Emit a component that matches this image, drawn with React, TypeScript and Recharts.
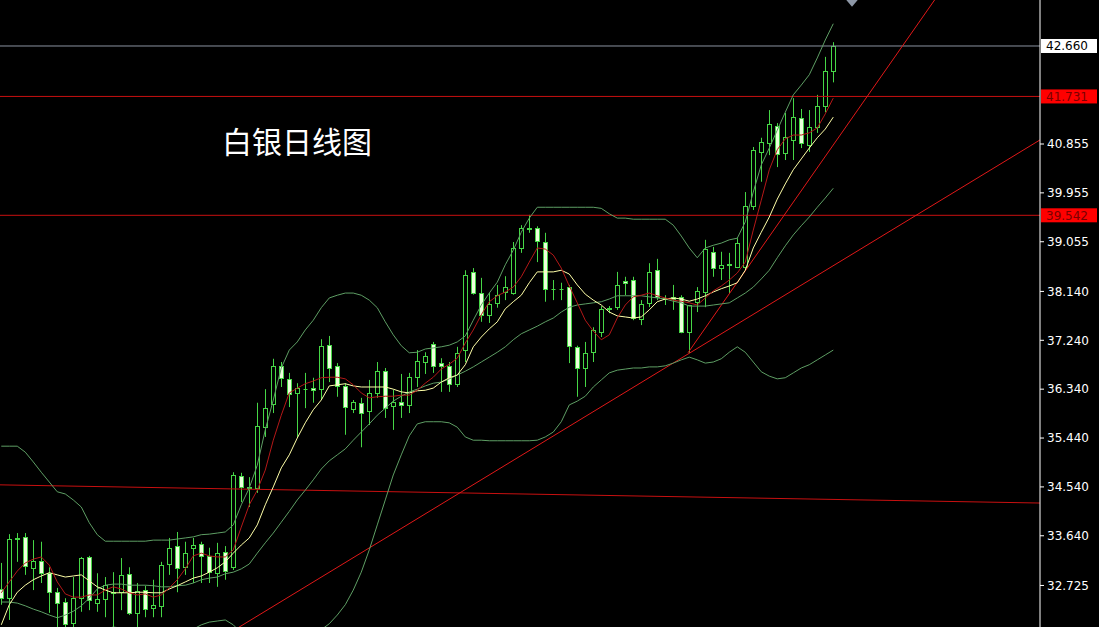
import React from "react";
import {
  ComposedChart,
  Bar,
  Line,
  XAxis,
  YAxis,
  ReferenceLine,
  ReferenceDot,
} from "recharts";

// daily candles, oldest first
const opens = [
  32.66, 32.49, 33.58, 33.62, 33.05, 33.18, 32.95, 32.6, 32.42, 32.03,
  32.49, 33.25, 32.4, 32.48, 32.59, 32.6, 32.94, 32.22, 32.64, 32.31,
  32.35, 33.12, 33.45, 33.06, 33.42, 33.49, 33.27, 32.95, 33.34, 33.06,
  34.74, 34.52, 34.52, 35.64, 36.07, 36.77, 36.53, 36.27, 36.34, 36.36,
  36.34, 37.15, 36.77, 36.4, 35.97, 36.09, 35.94, 36.27, 36.67, 36.03,
  36.11, 36.05, 36.56, 36.84, 37.17, 36.82, 36.77, 36.44, 37.06, 38.5,
  38.11, 37.71, 37.93, 38.13, 38.11, 38.94, 39.29, 39.31, 39.05, 38.19,
  38.18, 38.22, 37.12, 36.73, 37.02, 37.39, 37.82, 37.85, 38.33, 38.35,
  37.63, 37.93, 38.53, 38.02, 38.04, 38.04, 37.39, 37.95, 38.13, 38.87,
  38.57, 38.63, 38.59, 38.59, 39.71, 40.71, 40.87, 41.19, 40.69, 40.93,
  41.33, 40.84, 41.17, 41.55, 42.2,
];
const highs = [
  33.14, 33.67, 33.69, 33.69, 33.56, 33.53, 33.06, 32.68, 32.49, 32.88,
  33.25, 33.27, 32.95, 32.88, 32.97, 33.23, 33.06, 32.77, 32.72, 32.83,
  33.16, 33.6, 33.71, 33.53, 33.6, 33.53, 33.42, 33.51, 33.45, 34.81,
  34.8, 34.72, 36.09, 36.34, 36.9, 36.84, 36.64, 36.45, 36.64, 36.55,
  37.26, 37.32, 36.82, 36.45, 36.14, 36.18, 36.51, 36.84, 36.73, 36.33,
  36.62, 36.64, 37.06, 37.02, 37.21, 36.91, 36.84, 37.12, 38.53, 38.57,
  38.39, 38.11, 38.26, 38.42, 39.05, 39.36, 39.55, 39.34, 39.22, 38.35,
  38.3, 38.26, 37.14, 37.21, 37.48, 37.87, 37.87, 38.5, 38.41, 38.41,
  37.98, 38.66, 38.74, 38.07, 38.26, 38.07, 37.89, 38.22, 39.09, 38.96,
  38.87, 38.85, 39.12, 39.97, 40.8, 40.97, 41.48, 41.24, 41.43, 41.7,
  41.5, 41.48, 41.76, 42.46, 42.73,
];
const lows = [
  32.37, 32.09, 33.16, 32.92, 32.64, 32.77, 32.22, 31.9, 31.9, 31.9,
  32.24, 32.27, 32.24, 32.14, 31.9, 32.27, 32.18, 31.9, 32.14, 32.14,
  32.14, 32.92, 32.6, 32.92, 32.77, 32.77, 32.77, 32.7, 32.83, 33.01,
  34.26, 34.17, 34.43, 35.46, 35.9, 36.38, 36.01, 35.46, 35.99, 36.09,
  36.14, 36.47, 36.2, 35.5, 35.9, 35.27, 35.68, 36.18, 35.81, 35.59,
  35.81, 35.9, 36.38, 36.62, 36.64, 36.29, 36.29, 36.38, 36.84, 38.08,
  37.58, 37.56, 37.84, 37.98, 38.08, 38.85, 39.22, 38.68, 37.95, 37.98,
  37.98, 36.82, 36.2, 36.38, 36.84, 37.3, 37.74, 37.8, 38.07, 37.61,
  37.52, 37.85, 37.98, 37.89, 37.8, 37.37, 37.01, 37.76, 37.85, 38.41,
  38.35, 38.11, 38.57, 38.53, 39.64, 40.16, 40.65, 40.43, 40.56, 40.56,
  40.78, 40.71, 41.06, 41.44, 41.99,
];
const closes = [
  32.49, 33.58, 33.6, 33.08, 33.18, 32.95, 32.6, 32.4, 32.02, 32.49,
  33.23, 32.46, 32.48, 32.73, 32.6, 32.92, 32.22, 32.62, 32.29, 32.37,
  33.1, 33.42, 33.05, 33.32, 33.47, 33.27, 32.97, 33.32, 32.99, 34.76,
  34.54, 34.54, 35.66, 35.99, 36.77, 36.55, 36.25, 36.36, 36.35, 36.32,
  37.14, 36.73, 36.4, 36.01, 36.11, 35.9, 36.27, 36.67, 35.99, 36.11,
  36.05, 36.56, 36.86, 36.95, 36.77, 36.77, 36.44, 37.01, 38.44, 38.11,
  37.71, 37.91, 38.07, 38.22, 38.94, 39.31, 39.3, 39.07, 38.19, 38.18,
  38.19, 37.14, 36.73, 37.01, 37.43, 37.82, 37.83, 38.26, 38.3, 37.65,
  37.91, 38.5, 38.04, 38.0, 38.0, 37.39, 37.89, 38.15, 38.92, 38.57,
  38.63, 38.64, 39.03, 39.71, 40.74, 40.89, 41.22, 40.67, 40.98, 41.35,
  40.87, 41.17, 41.55, 42.2, 42.66,
];

// fast average (red)
const maFast = [
  32.59, 32.79, 32.99, 33.14, 33.21, 33.25, 33.1, 32.79, 32.57, 32.51,
  32.51, 32.55, 32.55, 32.64, 32.7, 32.66, 32.59, 32.55, 32.57, 32.51,
  32.55, 32.68, 32.83, 33.03, 33.27, 33.32, 33.27, 33.25, 33.25, 33.38,
  33.8, 34.21, 34.48, 34.85, 35.4, 35.86, 36.27, 36.36, 36.44, 36.49,
  36.55, 36.56, 36.56, 36.53, 36.42, 36.27, 36.18, 36.2, 36.21, 36.21,
  36.23, 36.23, 36.32, 36.45, 36.56, 36.71, 36.8, 36.91, 37.19, 37.43,
  37.71, 37.95, 38.06, 38.13, 38.22, 38.41, 38.68, 38.94, 38.92, 38.81,
  38.57, 38.24, 37.93, 37.61, 37.41, 37.25, 37.34, 37.65, 37.89, 38.04,
  38.07, 38.11, 38.06, 38.02, 37.98, 37.96, 37.93, 37.89, 38.02, 38.15,
  38.24, 38.35, 38.48, 38.68, 39.27, 39.82, 40.38, 40.75, 40.95, 41.02,
  41.02, 41.06, 41.15, 41.41, 41.7,
];
// slow average (yellow)
const maSlow = [
  32.0, 32.37, 32.6, 32.73, 32.83, 32.9, 32.96, 32.92, 32.88, 32.9,
  32.92, 32.81, 32.7, 32.64, 32.59, 32.59, 32.59, 32.6, 32.6, 32.59,
  32.59, 32.66, 32.72, 32.79, 32.86, 32.9, 32.97, 33.05, 33.16, 33.32,
  33.47, 33.6, 33.84, 34.21, 34.54, 34.89, 35.13, 35.44, 35.72, 35.96,
  36.14, 36.4, 36.42, 36.44, 36.4, 36.38, 36.38, 36.38, 36.38, 36.34,
  36.29, 36.27, 36.31, 36.32, 36.36, 36.47, 36.55, 36.6, 36.79, 37.12,
  37.3, 37.45, 37.58, 37.82, 37.95, 38.07, 38.3, 38.5, 38.5, 38.5,
  38.53, 38.46, 38.26, 38.09, 37.98, 37.89, 37.76, 37.69, 37.67, 37.65,
  37.67, 37.8, 37.95, 38.0, 38.02, 38.0, 37.96, 38.0, 38.06, 38.13,
  38.19, 38.24, 38.3, 38.53, 38.94, 39.23, 39.51, 39.84, 40.12, 40.38,
  40.58, 40.78, 40.97, 41.13, 41.35,
];
// bollinger bands (green)
const bandUpper = [
  35.29, 35.29, 35.29, 35.18, 35.0, 34.81, 34.63, 34.45, 34.41, 34.3,
  34.17, 33.88, 33.66, 33.54, 33.54, 33.54, 33.54, 33.54, 33.54, 33.56,
  33.56, 33.56, 33.58, 33.6, 33.62, 33.66, 33.67, 33.69, 33.71, 33.84,
  34.21, 34.52, 34.94, 35.59, 36.14, 36.73, 37.06, 37.21, 37.43, 37.61,
  37.84, 38.02, 38.07, 38.11, 38.11, 38.07, 37.98, 37.84, 37.58, 37.34,
  37.14, 37.01, 37.02, 37.08, 37.1, 37.12, 37.15, 37.21, 37.32, 37.61,
  37.89, 38.11, 38.31, 38.63, 38.9, 39.23, 39.49, 39.69, 39.69, 39.69,
  39.69, 39.69, 39.69, 39.69, 39.69, 39.67, 39.57, 39.49, 39.49, 39.47,
  39.47, 39.47, 39.47, 39.47, 39.36, 39.16, 38.94, 38.76, 38.94, 38.99,
  39.03, 39.09, 39.12, 39.42, 39.97, 40.47, 40.78, 41.11, 41.44, 41.76,
  41.94, 42.13, 42.44, 42.77, 43.07,
];
const bandMid = [
  32.42, 32.42, 32.4, 32.35, 32.29, 32.24, 32.18, 32.13, 32.18, 32.25,
  32.35, 32.49, 32.66, 32.73, 32.75, 32.75, 32.73, 32.73, 32.73, 32.72,
  32.7, 32.7, 32.72, 32.73, 32.77, 32.83, 32.86, 32.88, 32.94, 32.97,
  33.03, 33.12, 33.32, 33.51, 33.69, 33.89, 34.09, 34.3, 34.48, 34.67,
  34.87, 35.02, 35.13, 35.24, 35.4, 35.55, 35.7, 35.86, 35.99, 36.12,
  36.21, 36.29, 36.34, 36.4, 36.45, 36.47, 36.53, 36.6, 36.67, 36.75,
  36.84, 36.93, 37.02, 37.12, 37.25, 37.36, 37.43, 37.5, 37.58, 37.65,
  37.76, 37.85, 37.89, 37.91, 37.93, 37.95, 38.0, 38.06, 38.06, 38.06,
  38.06, 38.04, 38.02, 38.0, 37.96, 37.93, 37.87, 37.87, 37.87, 37.89,
  37.91, 37.93, 38.02, 38.11, 38.22, 38.37, 38.53, 38.76, 38.98, 39.18,
  39.35, 39.51, 39.69, 39.86, 40.04,
];
const bandLower = [
  29.55, 29.55, 29.51, 29.51, 29.58, 29.66, 29.73, 29.81, 29.95, 30.21,
  30.52, 31.11, 31.66, 31.92, 31.96, 31.94, 31.92, 31.92, 31.92, 31.87,
  31.83, 31.83, 31.85, 31.87, 31.92, 32.0, 32.05, 32.07, 32.09, 32.0,
  31.85, 31.72, 31.7, 31.43, 31.24, 31.06, 31.13, 31.39, 31.54, 31.72,
  31.91, 32.02, 32.18, 32.37, 32.64, 32.97, 33.38, 33.84, 34.3, 34.76,
  35.13, 35.48, 35.7, 35.74, 35.74, 35.74, 35.72, 35.64, 35.46, 35.4,
  35.4, 35.39, 35.39, 35.39, 35.39, 35.39, 35.39, 35.4, 35.46, 35.55,
  35.74, 36.05, 36.12, 36.21, 36.38, 36.51, 36.64, 36.69, 36.71, 36.73,
  36.73, 36.75, 36.75, 36.77, 36.82, 36.88, 36.93, 36.88, 36.82, 36.84,
  36.9, 37.02, 37.12, 37.02, 36.84, 36.66, 36.58, 36.53, 36.55, 36.64,
  36.73, 36.79, 36.88, 36.97, 37.06,
];

const priceTicks = [
  40.855, 39.955, 39.055, 38.14, 37.24, 36.34, 35.44, 34.54, 33.64, 32.725,
];

const lastPrice = 42.66;
const resistance = 41.731;
const support = 39.542;

const GREEN = "#46d646";

const chartData = opens.map((open, i) => ({
  i,
  open,
  high: highs[i],
  low: lows[i],
  close: closes[i],
  maFast: maFast[i],
  maSlow: maSlow[i],
  upper: bandUpper[i],
  mid: bandMid[i],
  lower: bandLower[i],
}));

function Candle(props: any) {
  const { x, y, width, height, payload } = props;
  if (!payload) return null;
  const top = Math.min(y, y + height);
  const bottom = Math.max(y, y + height);
  const range = payload.high - payload.low;
  const k = range > 0 ? (bottom - top) / range : 0;
  const py = (v: number) => top + (payload.high - v) * k;
  const cx = Math.round(x + width / 2) + 0.5;
  const up = payload.close >= payload.open;
  const yo = py(payload.open);
  const yc = py(payload.close);
  const bTop = Math.round(Math.min(yo, yc)) + 0.5;
  const bBot = Math.round(Math.max(yo, yc)) + 0.5;
  return (
    <g>
      <line x1={cx} x2={cx} y1={top} y2={bottom} stroke={GREEN} strokeWidth={1} />
      {bBot - bTop < 1 ? (
        <line x1={cx - 2} x2={cx + 2} y1={bTop} y2={bTop} stroke={GREEN} strokeWidth={1} />
      ) : (
        <rect
          x={cx - 2}
          y={bTop}
          width={4}
          height={bBot - bTop}
          fill={up ? "#000000" : "#ecffdc"}
          stroke={GREEN}
          strokeWidth={1}
        />
      )}
    </g>
  );
}

function PriceTag(props: any) {
  const { viewBox, text, bg, color } = props;
  if (!viewBox) return null;
  const x = viewBox.x + viewBox.width + 1;
  const y = viewBox.y;
  return (
    <g>
      <rect x={x} y={y - 7} width={56} height={14} fill={bg} />
      <text
        x={x + 5}
        y={y + 4.5}
        fill={color}
        fontSize={12}
        fontFamily="DejaVu Sans"
      >
        {text}
      </text>
    </g>
  );
}

function Marker(props: any) {
  const { cx, cy } = props;
  return (
    <polygon
      points={`${cx - 6},${cy - 4} ${cx + 6},${cy - 4} ${cx},${cy + 3}`}
      fill="#8d97a6"
    />
  );
}

function App() {
  return (
    <div
      style={{
        position: "absolute",
        left: 0,
        top: 0,
        width: 1099,
        height: 627,
        background: "#000000",
      }}
    >
      <ComposedChart
        width={1099}
        height={627}
        data={chartData}
        margin={{ top: 0, right: 0, left: 0, bottom: 0 }}
      >
        <XAxis
          dataKey="i"
          type="number"
          domain={[-0.16, 129.84]}
          allowDataOverflow
          hide
        />
        <YAxis
          orientation="right"
          type="number"
          domain={[31.96, 43.507]}
          allowDataOverflow
          ticks={priceTicks}
          interval={0}
          width={59}
          stroke="#ffffff"
          tickSize={4}
          tickMargin={3}
          tickFormatter={(v: number) => v.toFixed(3)}
          tick={{ fill: "#ffffff", fontSize: 12, fontFamily: "DejaVu Sans" }}
        />

        <ReferenceLine
          y={lastPrice}
          stroke="#8a92a0"
          label={<PriceTag text="42.660" bg="#ffffff" color="#000000" />}
        />
        <ReferenceLine
          y={resistance}
          stroke="#c81010"
          label={<PriceTag text="41.731" bg="#ff0000" color="#7a0000" />}
        />
        <ReferenceLine
          y={support}
          stroke="#c81010"
          label={<PriceTag text="39.542" bg="#ff0000" color="#7a0000" />}
        />
        <ReferenceLine
          segment={[
            { x: -1, y: 34.58 },
            { x: 131, y: 34.24 },
          ]}
          stroke="#c81010"
          ifOverflow="hidden"
        />
        <ReferenceLine
          segment={[
            { x: 24.84, y: 31.52 },
            { x: 129.84, y: 40.93 },
          ]}
          stroke="#e01818"
          ifOverflow="hidden"
        />
        <ReferenceLine
          segment={[
            { x: 85.84, y: 37.01 },
            { x: 120, y: 44.21 },
          ]}
          stroke="#e01818"
          ifOverflow="hidden"
        />

        <Line dataKey="upper" stroke="#5e9e64" strokeWidth={1} dot={false} activeDot={false} isAnimationActive={false} />
        <Line dataKey="mid" stroke="#5e9e64" strokeWidth={1} dot={false} activeDot={false} isAnimationActive={false} />
        <Line dataKey="lower" stroke="#5e9e64" strokeWidth={1} dot={false} activeDot={false} isAnimationActive={false} />

        <Bar
          dataKey={(d: any) => [d.low, d.high]}
          barSize={6}
          shape={(p: any) => <Candle {...p} />}
          activeBar={false}
          isAnimationActive={false}
        />

        <Line dataKey="maSlow" stroke="#ffffa8" strokeWidth={1} dot={false} activeDot={false} isAnimationActive={false} />
        <Line dataKey="maFast" stroke="#b41818" strokeWidth={1} dot={false} activeDot={false} isAnimationActive={false} />

        <ReferenceDot x={106.34} y={43.44} r={0} shape={(p: any) => <Marker {...p} />} />
      </ComposedChart>
      <div
        style={{
          position: "absolute",
          left: 222,
          top: 124,
          color: "#ffffff",
          fontSize: 30,
          lineHeight: "32px",
          fontFamily: "'Noto Sans CJK SC', sans-serif",
          whiteSpace: "nowrap",
        }}
      >
        白银日线图
      </div>
    </div>
  );
}

export default App;
